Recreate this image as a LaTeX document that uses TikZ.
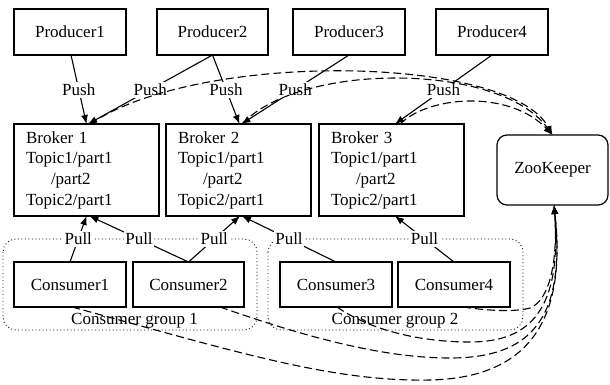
\documentclass[tikz,border=0pt]{standalone}
\usepackage{fontspec}
\setmainfont{Liberation Serif}
\usetikzlibrary{arrows.meta}
\begin{document}
\begin{tikzpicture}[x=1pt,y=-1pt,
  every node/.style={font=\fontsize{17}{20.7}\selectfont},
  box/.style={draw, line width=1.2pt, minimum width=112pt, minimum height=46pt, inner sep=0pt, outer sep=0pt},
  broker/.style={draw, line width=1.2pt, minimum width=145pt, minimum height=92pt, text width=121pt, align=left, inner xsep=12pt, inner ysep=0pt, outer sep=0pt},
  zkbox/.style={draw, line width=1.2pt, rounded corners=10pt, minimum width=111pt, minimum height=70pt, outer sep=0pt},
  lbl/.style={fill=white, inner sep=1.5pt, text height=12pt, text depth=1pt, midway},
  conn/.style={line width=1.1pt, -{Latex[length=9pt,width=7pt]}},
  zkconn/.style={line width=1.1pt, dash pattern=on 8pt off 4pt, -{Latex[length=9pt,width=7pt]}},
  grp/.style={line width=0.9pt, dash pattern=on 0.9pt off 2.6pt, rounded corners=13pt},
  glabel/.style={inner sep=0pt, text height=12pt, text depth=3.5pt}
]
\useasboundingbox (0,0) rectangle (610,384);
% consumer groups
\draw[grp] (3,239) rectangle (257,330);
\draw[grp] (268,239) rectangle (523,330);
\node[glabel] (g1) at (134.5,320) {Consumer group 1};
\node[glabel] (g2) at (395,320) {Consumer group 2};
% producers
\node[box] (p1) at (70,32) {Producer1};
\node[box, minimum width=111pt] (p2) at (212.5,32) {Producer2};
\node[box] (p3) at (349,32) {Producer3};
\node[box] (p4) at (492,32) {Producer4};
% brokers
\node[broker] (b1) at (86.5,170) {Broker 1\\Topic1/part1\\\hspace*{25pt}/part2\\Topic2/part1};
\node[broker] (b2) at (238.5,170) {Broker 2\\Topic1/part1\\\hspace*{25pt}/part2\\Topic2/part1};
\node[broker] (b3) at (391.5,170) {Broker 3\\Topic1/part1\\\hspace*{25pt}/part2\\Topic2/part1};
% zookeeper
\node[zkbox] (zk) at (552.5,170) {ZooKeeper};
% consumers
\node[box, minimum height=45pt] (c1) at (70,284.5) {Consumer1};
\node[box, minimum height=45pt, minimum width=111pt] (c2) at (188.5,284.5) {Consumer2};
\node[box, minimum height=45pt] (c3) at (336,284.5) {Consumer3};
\node[box, minimum height=45pt] (c4) at (454,284.5) {Consumer4};
% push
\draw[conn] ([xshift=1pt]p1.south) -- node[lbl]{Push} (b1.north);
\draw[conn] (p2.south) -- node[lbl]{Push} ([xshift=1.5pt]b1.north);
\draw[conn] (p2.south) -- node[lbl]{Push} ([xshift=1pt]b2.north);
\draw[conn] (p3.south) -- node[lbl]{Push} ([xshift=3pt]b2.north);
\draw[conn] (p4.south) -- node[lbl]{Push} ([xshift=3.5pt]b3.north);
% pull
\draw[conn] (c1.north) -- node[lbl]{Pull} (b1.south);
\draw[conn] (c2.north) -- node[lbl]{Pull} ([xshift=3pt]b1.south);
\draw[conn] (c2.north) -- node[lbl]{Pull} ([xshift=1.5pt]b2.south);
\draw[conn] (c3.north) -- node[lbl]{Pull} ([xshift=3.5pt]b2.south);
\draw[conn] (c4.north) -- node[lbl]{Pull} ([xshift=3.5pt]b3.south);
% brokers to zookeeper
\draw[zkconn] ([xshift=3.5pt]b1.north) .. controls (200,50) and (510,55) .. (zk.north);
\draw[zkconn] ([xshift=3.5pt]b2.north) .. controls (300,62) and (500,62) .. (zk.north);
\draw[zkconn] ([xshift=8.5pt]b3.north) .. controls (430,95) and (510,90) .. (zk.north);
% consumers to zookeeper
\draw[zkconn] ([xshift=2pt]c1.south) .. controls (230,350) and (330,382) .. (430,380) .. controls (520,378) and (568,330) .. ([xshift=1.5pt]zk.south);
\draw[zkconn] ([xshift=31.5pt]c2.south) .. controls (300,335) and (380,358) .. (450,358) .. controls (530,358) and (566,320) .. ([xshift=1.5pt]zk.south);
\draw[zkconn] ([xshift=1pt]c3.south) .. controls (370,330) and (420,342) .. (470,342) .. controls (530,342) and (562,310) .. ([xshift=1.5pt]zk.south);
\draw[zkconn] ([xshift=9pt]c4.south) .. controls (490,311) and (515,312) .. (530,308) .. controls (550,300) and (558,260) .. ([xshift=1.5pt]zk.south);
\end{tikzpicture}
\end{document}
